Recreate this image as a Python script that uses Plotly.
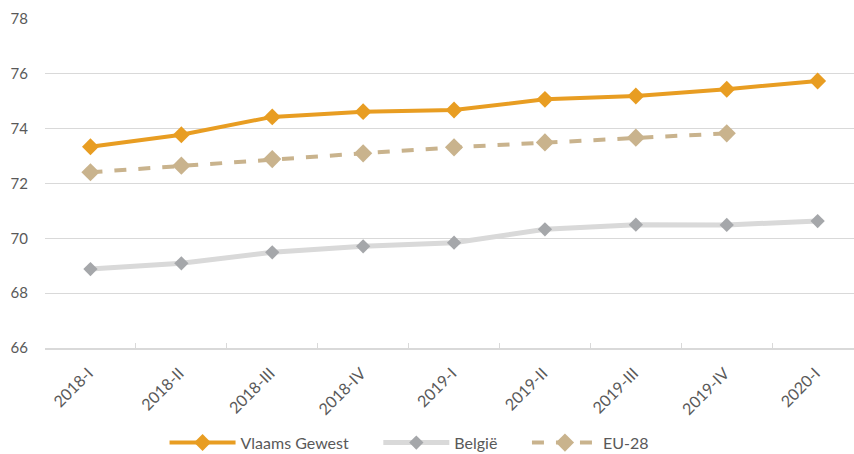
import plotly.graph_objects as go

categories = ["2018-I", "2018-II", "2018-III", "2018-IV", "2019-I", "2019-II", "2019-III", "2019-IV", "2020-I"]
vlaams = [73.34, 73.78, 74.43, 74.62, 74.68, 75.07, 75.19, 75.44, 75.74]
belgie = [68.88, 69.09, 69.49, 69.71, 69.84, 70.33, 70.50, 70.49, 70.63]
eu28 = [72.41, 72.65, 72.89, 73.10, 73.32, 73.50, 73.67, 73.83, None]

pad = "\u00a0" * 6
fig = go.Figure()
fig.add_trace(go.Scatter(
    x=categories, y=vlaams, name="Vlaams Gewest" + pad, mode="lines+markers",
    line=dict(color="#E89D22", width=4),
    marker=dict(symbol="diamond", size=13, color="#E89D22")))
fig.add_trace(go.Scatter(
    x=categories, y=belgie, name="België" + pad, mode="lines+markers",
    line=dict(color="#D9D9D9", width=5),
    marker=dict(symbol="diamond", size=11, color="#A5A7AA")))
fig.add_trace(go.Scatter(
    x=categories, y=eu28, name="EU-28", mode="lines+markers",
    line=dict(color="#C9B38D", width=4, dash="dash"),
    marker=dict(symbol="diamond", size=14, color="#C9B38D")))

fig.update_layout(
    width=854, height=454,
    margin=dict(l=45, r=0, t=19, b=106, autoexpand=False),
    paper_bgcolor="white", plot_bgcolor="white",
    font=dict(family="Lato, Open Sans, sans-serif", size=16, color="#595959"),
    showlegend=True,
    legend=dict(orientation="h", x=0.45, xanchor="center",
                yref="container", y=0.025, yanchor="middle",
                font=dict(size=16, color="#595959"), itemwidth=66,
                traceorder="normal"),
)
fig.update_xaxes(
    type="category", range=[-0.5, 8.4], automargin=False,
    showgrid=False, showline=True, linecolor="#D9D9D9", linewidth=1.5,
    ticks="inside", tickson="boundaries", ticklen=5, tickcolor="#D9D9D9",
    tickangle=-45, tickfont=dict(size=16, color="#595959"),
    ticklabelshift=-2, ticklabelstandoff=8,
)
fig.update_yaxes(
    range=[66, 78], dtick=2, showgrid=True, gridcolor="#D9D9D9", gridwidth=1,
    zeroline=False, showline=False, ticks="", ticklabelstandoff=16, automargin=False,
    tickfont=dict(size=15, color="#595959"),
)

fig.write_html("out.html", config={"displayModeBar": False},
               post_script="document.body.style.margin='0';document.body.style.overflow='hidden';")
